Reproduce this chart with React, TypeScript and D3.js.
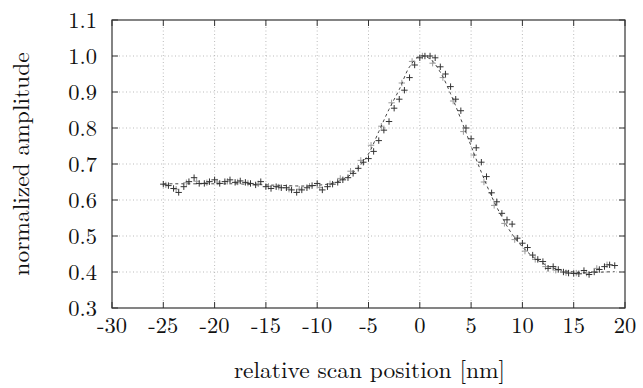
import React from "react";
import * as d3 from "d3";

const xTicks = [-30, -25, -20, -15, -10, -5, 0, 5, 10, 15, 20];
const yTicks = [0.3, 0.4, 0.5, 0.6, 0.7, 0.8, 0.9, 1.0, 1.1];

// primary scan (dark crosses)
const scanX = [
  -25, -24.5, -24, -23.5, -23, -22.5, -22, -21.5, -21, -20.5, -20, -19.5, -19, -18.5, -18, -17.5,
  -17, -16.5, -16, -15.5, -15, -14.5, -14, -13.5, -13, -12.5, -12, -11.5, -11, -10.5, -10, -9.5,
  -9, -8.5, -8, -7.5, -7, -6.5, -6, -5.5, -5, -4.5, -4, -3.5, -3, -2.5, -2, -1.5, -1, -0.5, 0,
  0.5, 1, 1.5, 2, 2.5, 3, 3.5, 4, 4.5, 5, 5.5, 6, 6.5, 7, 7.5, 8, 8.5, 9, 9.5, 10, 10.5, 11, 11.5,
  12, 12.5, 13, 13.5, 14, 14.5, 15, 15.5, 16, 16.5, 17, 17.5, 18, 18.5, 19,
];
const scanY = [
  0.644, 0.64, 0.632, 0.621, 0.637, 0.651, 0.662, 0.646, 0.646, 0.651, 0.656, 0.646, 0.651, 0.656, 0.649, 0.653,
  0.649, 0.646, 0.642, 0.651, 0.637, 0.632, 0.637, 0.634, 0.634, 0.628, 0.621, 0.628, 0.634, 0.64, 0.646, 0.628,
  0.637, 0.644, 0.649, 0.656, 0.662, 0.674, 0.688, 0.705, 0.715, 0.735, 0.765, 0.794, 0.818, 0.855, 0.88, 0.905, 0.94, 0.975, 0.995,
  1.0, 1.0, 0.995, 0.97, 0.95, 0.915, 0.88, 0.848, 0.8, 0.77, 0.745, 0.705, 0.665, 0.62, 0.595, 0.563, 0.545, 0.533, 0.494, 0.48, 0.468, 0.447, 0.435, 0.429,
  0.41, 0.415, 0.407, 0.4, 0.397, 0.396, 0.395, 0.404, 0.393, 0.4, 0.407, 0.415, 0.42, 0.418, 0.418,
];

// second scan (grey crosses)
const scan2X = [
  -24.75, -23.75, -22.75, -21.75, -20.75, -19.75, -18.75, -17.75, -16.75, -15.75, -14.75, -13.75, -12.75, -11.75, -10.75,
  -9.75, -8.75, -7.75, -6.75, -5.75, -4.75, -3.75, -2.75, -1.75, -0.75, 0.25, 1.25, 2.25, 3.25, 4.25, 5.25, 6.25,
  7.25, 8.25, 9.25, 10.25, 11.25, 12.25, 13.25, 14.25, 15.25, 16.25, 17.25, 18.25,
];
const scan2Y = [
  0.642, 0.63, 0.648, 0.652, 0.648, 0.65, 0.652, 0.65, 0.647, 0.645, 0.638, 0.636, 0.63, 0.63, 0.638,
  0.635, 0.645, 0.66, 0.68, 0.71, 0.752, 0.805, 0.87, 0.925, 0.985, 1.0, 0.98, 0.94, 0.875, 0.79, 0.725, 0.65,
  0.585, 0.535, 0.49, 0.458, 0.435, 0.415, 0.405, 0.398, 0.397, 0.397, 0.41, 0.42,
];

// fitted profile (dashed)
const fitX = [
  -25, -24, -23, -22, -21, -20, -19, -18, -17, -16, -15, -14, -13, -12, -11, -10, -9, -8, -7, -6, -5, -4, -3, -2, -1,
  0, 1, 2, 3, 4, 5, 6, 7, 8, 9, 10, 11, 12, 13, 14, 15, 16, 17, 18, 19,
];
const fitY = [
  0.645, 0.645, 0.645, 0.645, 0.645, 0.645, 0.645, 0.645, 0.644, 0.643, 0.642, 0.641, 0.64, 0.639, 0.639, 0.641, 0.644, 0.651,
  0.665, 0.69, 0.728, 0.79, 0.852, 0.907, 0.97, 1.0, 0.992, 0.955, 0.895, 0.825, 0.75, 0.677, 0.61, 0.553, 0.505, 0.47, 0.443,
  0.424, 0.411, 0.404, 0.4, 0.398, 0.399, 0.4, 0.401,
];

const W = 643;
const H = 388;
const M = { left: 112, right: 625, top: 20, bottom: 308 };
const FONT = "Latin Modern Roman";

export default function App() {
  const x = d3.scaleLinear().domain([-30, 20]).range([M.left, M.right]);
  const y = d3.scaleLinear().domain([0.3, 1.1]).range([M.bottom, M.top]);
  const line = d3
    .line<number>()
    .x((_, i) => x(fitX[i]))
    .y((d) => y(d))
    .curve(d3.curveCatmullRom);
  const tick = 6;
  const cross = (cx: number, cy: number, r: number) => `M${cx - r},${cy}H${cx + r}M${cx},${cy - r}V${cy + r}`;
  const tickStyle = { fontFamily: FONT, fontSize: 22.5, fill: "#111" } as React.CSSProperties;
  const titleStyle = { fontFamily: FONT, fontSize: 23.5, fill: "#111" } as React.CSSProperties;

  return (
    <svg width={W} height={H} style={{ position: "absolute", left: 0, top: 0, background: "#fff" }}>
      {/* grid */}
      <g stroke="#aaa" strokeWidth={0.8} strokeDasharray="1,2.5">
        {xTicks.slice(1, -1).map((t) => (
          <line key={"gx" + t} x1={x(t)} x2={x(t)} y1={M.top} y2={M.bottom} />
        ))}
        {yTicks.slice(1, -1).map((t) => (
          <line key={"gy" + t} x1={M.left} x2={M.right} y1={y(t)} y2={y(t)} />
        ))}
      </g>
      {/* second scan */}
      <path
        d={scan2X.map((v, i) => cross(x(v), y(scan2Y[i]), 3.2)).join("")}
        stroke="#9a9a9a"
        strokeWidth={1}
        fill="none"
      />
      {/* fit */}
      <path d={line(fitY) || ""} stroke="#444" strokeWidth={1} strokeDasharray="3,3" fill="none" />
      {/* primary scan */}
      <path
        d={scanX.map((v, i) => cross(x(v), y(scanY[i]), 3.2)).join("")}
        stroke="#333"
        strokeWidth={1}
        fill="none"
      />
      {/* ticks */}
      <g stroke="#333" strokeWidth={1}>
        {xTicks.map((t) => (
          <g key={"tx" + t}>
            <line x1={x(t)} x2={x(t)} y1={M.bottom} y2={M.bottom - tick} />
            <line x1={x(t)} x2={x(t)} y1={M.top} y2={M.top + tick} />
          </g>
        ))}
        {yTicks.map((t) => (
          <g key={"ty" + t}>
            <line x1={M.left} x2={M.left + tick} y1={y(t)} y2={y(t)} />
            <line x1={M.right} x2={M.right - tick} y1={y(t)} y2={y(t)} />
          </g>
        ))}
      </g>
      <rect
        x={M.left}
        y={M.top}
        width={M.right - M.left}
        height={M.bottom - M.top}
        fill="none"
        stroke="#333"
        strokeWidth={1.2}
      />
      {/* tick labels */}
      <g>
        {xTicks.map((t) => (
          <text key={"lx" + t} x={x(t)} y={333} textAnchor="middle" style={tickStyle}>
            {String(t)}
          </text>
        ))}
        {yTicks.map((t) => (
          <text key={"ly" + t} x={97} y={y(t) + 7.5} textAnchor="end" style={tickStyle}>
            {t.toFixed(1)}
          </text>
        ))}
      </g>
      <text x={(M.left + M.right) / 2 + 1} y={378} textAnchor="middle" style={titleStyle}>
        relative scan position [nm]
      </text>
      <text
        transform={`translate(29,${(M.top + M.bottom) / 2}) rotate(-90)`}
        textAnchor="middle"
        style={titleStyle}
      >
        normalized amplitude
      </text>
    </svg>
  );
}
